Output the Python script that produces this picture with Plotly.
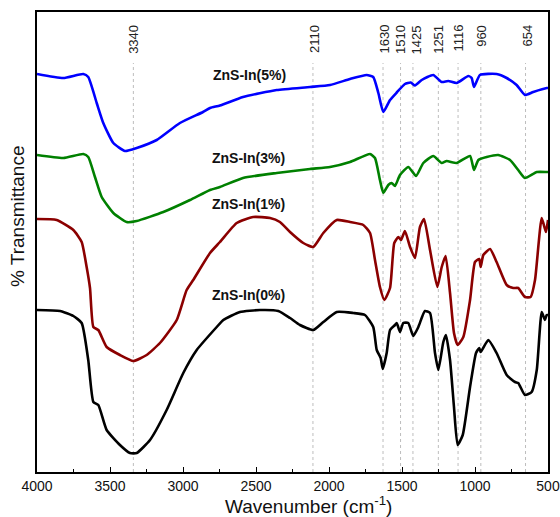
import plotly.graph_objects as go

# ---------------- data (arbitrary %T units, offset curves) -------------
wn_5 = [4000, 3820, 3683, 3649, 3591, 3546, 3477, 3397, 3317, 3180, 3021, 2863, 2815, 2747,
        2589, 2358, 2130, 1993, 1856, 1742, 1697, 1662, 1628, 1582, 1536, 1480, 1440, 1411,
        1365, 1286, 1228, 1183, 1126, 1046, 1023, 1007, 966, 852, 783, 715, 658, 601, 509, 500]
t_5 = [400, 396, 400, 397, 371, 351, 331, 323, 326, 334, 351, 362, 366, 368.5,
       377, 384, 387, 389, 395, 399, 397, 381, 362, 374, 381.5, 390, 391.5, 388.5,
       394, 399, 392, 393, 391, 398, 396, 387, 399, 400, 396, 389, 379, 382, 386, 386]

wn_3 = [4000, 3820, 3683, 3649, 3603, 3557, 3477, 3386, 3317, 3135, 2952, 2815, 2747, 2589,
        2358, 2130, 1993, 1856, 1719, 1685, 1651, 1628, 1594, 1571, 1548, 1514, 1457, 1404,
        1354, 1286, 1228, 1194, 1126, 1034, 1007, 977, 920, 841, 760, 704, 658, 577, 509, 500]
t_3 = [319, 316, 320, 317, 297, 277, 261, 252, 253, 262, 274, 284, 287, 296,
       301, 305, 307, 312, 320, 316, 294, 281, 289, 291, 288, 299, 307, 298,
       311, 318, 311, 313, 311, 318, 304, 314, 317, 319, 314, 304, 296, 302, 302, 302]

wn_1 = [4000, 3865, 3751, 3694, 3660, 3637, 3614, 3580, 3523, 3432, 3340, 3249, 3158, 3043,
        2975, 2930, 2815, 2747, 2632, 2519, 2404, 2336, 2267, 2176, 2108, 2039, 1947, 1856,
        1765, 1719, 1685, 1651, 1621, 1582, 1553, 1525, 1507, 1480, 1445, 1411, 1377, 1349,
        1308, 1258, 1228, 1201, 1171, 1144, 1119, 1080, 1034, 1000, 971, 961, 943, 897, 852,
        783, 738, 704, 658, 619, 589, 543, 514, 500]
t_1 = [255, 254, 244, 232, 207, 186, 147, 144, 127, 119, 113, 119, 131, 154,
       184, 194, 221, 232, 251, 257, 256, 252, 242, 231, 227, 241, 254, 252,
       249, 241, 214, 187, 174, 186, 231, 237, 234, 243, 227, 216, 247, 255,
       224, 187, 207, 218, 181, 141, 129, 137, 174, 212, 215, 207, 219, 225, 212,
       189, 186, 186, 177, 177, 194, 256, 242, 254]

wn_0 = [4000, 3842, 3751, 3694, 3649, 3614, 3580, 3523, 3432, 3363, 3317, 3226, 3112, 2998,
        2906, 2769, 2724, 2610, 2473, 2347, 2267, 2199, 2108, 2039, 1947, 1834, 1754, 1697,
        1673, 1646, 1632, 1605, 1582, 1548, 1536, 1514, 1491, 1457, 1423, 1388, 1343, 1308,
        1274, 1251, 1217, 1199, 1171, 1144, 1119, 1084, 1034, 993, 971, 961, 909, 852, 783,
        726, 704, 658, 612, 577, 543, 521, 509, 500]
t_0 = [164, 163, 158, 151, 114, 72, 69, 44, 29, 21, 21, 34, 64, 101,
       124, 147, 154, 162, 164, 163, 156, 149, 144, 152, 162, 161, 159, 147,
       124, 116, 105, 121, 144, 149, 151, 142, 151, 151, 138, 147, 163, 161,
       121, 104, 132, 139, 114, 67, 29, 39, 87, 121, 126, 122, 134, 121, 99,
       92, 91, 79, 82, 104, 162, 154, 159, 159]

series_names = ["ZnS-In(5%)", "ZnS-In(3%)", "ZnS-In(1%)", "ZnS-In(0%)"]
series_colors = ["#0000FF", "#008000", "#8B0000", "#000000"]
label_pos_wn = [2808, 2815, 2815, 2815]
label_pos_t = [399, 316, 270, 179]

peak_labels = [3340, 2110, 1630, 1510, 1425, 1251, 1116, 960, 654]
peak_label_shift = [0, 1, 1, 0, 4, 0, 0, 0, 1]

FONT = "Arial, Liberation Sans, sans-serif"

fig = go.Figure()

# dotted peak marker lines
for p in peak_labels:
    fig.add_shape(type="line", xref="x", yref="y", x0=p, x1=p, y0=2, y1=411,
                  line=dict(color="#BDBDBD", width=1, dash="dot"), layer="below")

series = [(wn_5, t_5), (wn_3, t_3), (wn_1, t_1), (wn_0, t_0)]
for (wx, ty), name, col in zip(series, series_names, series_colors):
    fig.add_trace(go.Scatter(x=wx, y=ty, mode="lines", name=name,
                             line=dict(color=col, width=2.6, shape="spline", smoothing=0.5),
                             showlegend=False, hoverinfo="skip"))

for name, xw, yt in zip(series_names, label_pos_wn, label_pos_t):
    fig.add_annotation(x=xw, y=yt, xref="x", yref="y", text="<b>" + name + "</b>",
                       showarrow=False, xanchor="left", yanchor="middle",
                       font=dict(family=FONT, size=14, color="#111111"))

for p, sh in zip(peak_labels, peak_label_shift):
    fig.add_annotation(x=p, y=451, xref="x", yref="y", text=str(p), textangle=-90,
                       showarrow=False, xanchor="center", yanchor="top", xshift=sh,
                       font=dict(family=FONT, size=13, color="#222222"))

# axis titles as annotations (placed like the original)
fig.add_annotation(x=(308 - 37) / 511, y=-(505 - 472) / 460, xref="paper", yref="paper",
                   text="Wavenumber (cm<sup>-1</sup>)", showarrow=False,
                   xanchor="center", yanchor="middle",
                   font=dict(family=FONT, size=19, color="#111111"))
fig.add_annotation(x=-(37 - 17) / 511, y=(472 - 216) / 460, xref="paper", yref="paper",
                   text="% Transmittance", showarrow=False, textangle=-90,
                   xanchor="center", yanchor="middle",
                   font=dict(family=FONT, size=19, color="#111111"))

fig.update_layout(
    width=560, height=517,
    margin=dict(l=37, r=12, t=12, b=45, autoexpand=False),
    paper_bgcolor="white", plot_bgcolor="white",
    xaxis=dict(range=[4000, 500], autorange=False, tickmode="array", automargin=False,
               tickvals=[4000, 3500, 3000, 2500, 2000, 1500, 1000, 500],
               ticks="inside", ticklen=5, tickwidth=1.3, tickcolor="black",
               minor=dict(tickvals=[3750, 3250, 2750, 2250, 1750, 1250, 750],
                          ticks="inside", ticklen=3, tickwidth=1.2, tickcolor="black"),
               showgrid=False, zeroline=False, showline=True, linecolor="black",
               linewidth=1.5, mirror=True,
               tickfont=dict(family=FONT, size=14, color="#111111")),
    yaxis=dict(range=[2, 462], autorange=False, showticklabels=False, ticks="",
               automargin=False,
               showgrid=False, zeroline=False, showline=True, linecolor="black",
               linewidth=1.5, mirror=True),
)

fig.write_html("out.html", config={"displayModeBar": False},
               post_script="document.body.style.margin='0';document.body.style.padding='0';"
                           "document.body.style.overflow='hidden';")
